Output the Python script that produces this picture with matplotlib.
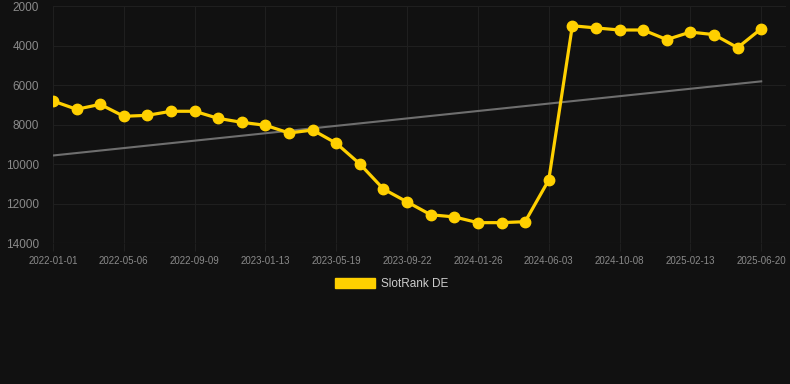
import matplotlib.pyplot as plt
from matplotlib.patches import Patch
import numpy as np

# rank per sample (index on x)
ranks = [6810, 7230, 6980, 7585, 7535, 7330, 7330, 7690, 7890, 8040,
         8430, 8280, 8950, 10000, 11270, 11920, 12570, 12680, 12970, 12970,
         12920, 10810, 3000, 3110, 3215, 3215, 3700, 3320, 3450, 4110, 3150]
tick_labels = ["2022-01-01", "2022-05-06", "2022-09-09", "2023-01-13",
               "2023-05-19", "2023-09-22", "2024-01-26", "2024-06-03",
               "2024-10-08", "2025-02-13", "2025-06-20"]
y_ticks = [2000, 4000, 6000, 8000, 10000, 12000, 14000]

bg = "#111111"
gold = "#FFD000"
grid_c = "#1f1f1f"

plt.rcParams['font.family'] = ['Liberation Sans', 'DejaVu Sans']

fig = plt.figure(figsize=(7.9, 3.84), dpi=100, facecolor=bg)
ax = fig.add_axes([53 / 790, 1 - 243 / 384, (786 - 53) / 790, (243 - 6) / 384])
ax.set_facecolor(bg)

x = np.arange(len(ranks))

# trend line (linear fit)
k, b = np.polyfit(x, ranks, 1)
ax.plot(x, k * x + b, color="#6e6e6e", lw=1.5, zorder=2)

ax.plot(x, ranks, color=gold, lw=2.3, marker="o", ms=7.5, zorder=3)

ax.set_ylim(14000, 2000)
ax.set_xlim(0, 31.05)
ax.set_yticks(y_ticks)
ax.set_yticklabels([str(v) for v in y_ticks])
ax.set_xticks(x[::3])
ax.set_xticklabels(tick_labels)

ax.grid(True, color=grid_c, lw=0.8, zorder=0)
ax.axhline(14000, color="#2a2a2a", lw=0.8, zorder=1)
for s in ax.spines.values():
    s.set_visible(False)
ax.tick_params(axis="y", length=0, pad=10, labelsize=8.5, labelcolor="#8a8a8a")
ax.tick_params(axis="x", length=6, width=0.8, color=grid_c, pad=3,
               labelsize=7, labelcolor="#8a8a8a")

fig.legend(handles=[Patch(facecolor=gold, edgecolor=gold, label="SlotRank DE")],
           loc="center", bbox_to_anchor=(392 / 790, 1 - 284 / 384),
           frameon=False, fontsize=8.5, labelcolor="#cccccc",
           handlelength=3.4, handleheight=0.9, handletextpad=0.5)

fig.savefig("out.png", dpi=100, facecolor=bg)
